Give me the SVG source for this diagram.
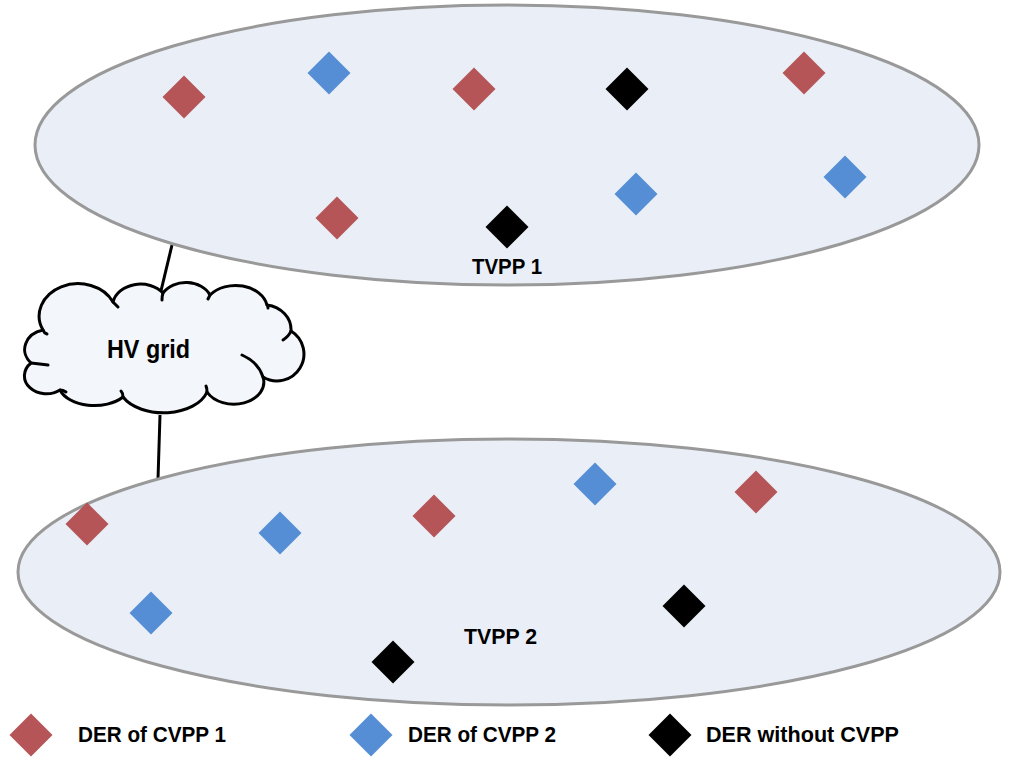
<svg xmlns="http://www.w3.org/2000/svg" width="1012" height="762" viewBox="0 0 1012 762">
<style>
.area{fill:#EAEFF7;stroke:#999999;stroke-width:3}
.cloud{fill:#F3F6FA;stroke:#000;stroke-width:3;stroke-linejoin:round}
.tick{fill:none;stroke:#000;stroke-width:3;stroke-linecap:round}
.link{stroke:#000;stroke-width:3;fill:none}
.lbl{font-family:"Liberation Sans",Arial,sans-serif;font-weight:bold;fill:#000}
.r{fill:#B55557}
.b{fill:#558ED5}
.k{fill:#000}
</style>
<defs>
<path id="dia" d="M0,-21.5 L21.5,0 L0,21.5 L-21.5,0 Z" stroke-linejoin="round"/>
</defs>
<g id="connectors">
<line class="link" x1="172" y1="245" x2="160" y2="295"/>
<line class="link" x1="160" y1="415" x2="158" y2="479"/>
</g>
<g id="tvpp1">
<ellipse class="area" cx="507" cy="145" rx="472" ry="140"/>
<text class="lbl" x="472" y="274" font-size="22" textLength="70" lengthAdjust="spacingAndGlyphs">TVPP 1</text>
</g>
<g id="tvpp2">
<ellipse class="area" cx="509" cy="572" rx="491" ry="133"/>
<text class="lbl" x="464" y="644" font-size="22" textLength="73" lengthAdjust="spacingAndGlyphs">TVPP 2</text>
</g>
<g id="hvgrid">
<path class="cloud" d="M43,330 A36,30 0 0 1 113,302 A28,22 0 0 1 163,293 A26,20 0 0 1 210,295 A32,24 0 0 1 267,305 A28,25 0 0 1 291,331 A24,24 0 0 1 263,377 A30,22 0 0 1 207,392 A45,28 0 0 1 123,397 A36,22 0 0 1 60,390 A22,18 0 0 1 31,363 A24,20 0 0 1 43,330 Z"/>
<path class="tick" d="M43,330 Q44,333 47,334"/>
<path class="tick" d="M113,302 Q116,305 118,307"/>
<path class="tick" d="M163,293 Q162,296 162,300"/>
<path class="tick" d="M210,295 Q209,297 208,299"/>
<path class="tick" d="M267,305 Q268,306 268,308"/>
<path class="tick" d="M291,331 Q289,336 283,340"/>
<path class="tick" d="M242,355 Q258,362 263,377"/>
<path class="tick" d="M207,392 Q207,388 206,386"/>
<path class="tick" d="M123,397 Q123,393 121,391"/>
<path class="tick" d="M60,390 Q63,390 66,392"/>
<path class="tick" d="M31,363 Q40,364 48,365"/>
<text class="lbl" x="107" y="358" font-size="25" textLength="83" lengthAdjust="spacingAndGlyphs">HV grid</text>
</g>
<g id="ders1">
<use href="#dia" class="r" x="184" y="97"/>
<use href="#dia" class="b" x="329" y="73"/>
<use href="#dia" class="r" x="474" y="89"/>
<use href="#dia" class="k" x="627" y="89"/>
<use href="#dia" class="r" x="804" y="73"/>
<use href="#dia" class="r" x="337" y="218"/>
<use href="#dia" class="k" x="507" y="227"/>
<use href="#dia" class="b" x="636" y="194"/>
<use href="#dia" class="b" x="845" y="177"/>
</g>
<g id="ders2">
<use href="#dia" class="r" x="87" y="524"/>
<use href="#dia" class="b" x="280" y="533"/>
<use href="#dia" class="r" x="434" y="516"/>
<use href="#dia" class="b" x="595" y="484"/>
<use href="#dia" class="r" x="756" y="492"/>
<use href="#dia" class="b" x="151" y="613"/>
<use href="#dia" class="k" x="684" y="606"/>
<use href="#dia" class="k" x="393" y="662"/>
</g>
<g id="legend">
<use href="#dia" class="r" x="31" y="735"/>
<text class="lbl" x="78" y="742" font-size="22" textLength="148" lengthAdjust="spacingAndGlyphs">DER of CVPP 1</text>
<use href="#dia" class="b" x="371" y="735"/>
<text class="lbl" x="408" y="742" font-size="22" textLength="148" lengthAdjust="spacingAndGlyphs">DER of CVPP 2</text>
<use href="#dia" class="k" x="670" y="735"/>
<text class="lbl" x="706" y="742" font-size="22" textLength="193" lengthAdjust="spacingAndGlyphs">DER without CVPP</text>
</g>
</svg>
